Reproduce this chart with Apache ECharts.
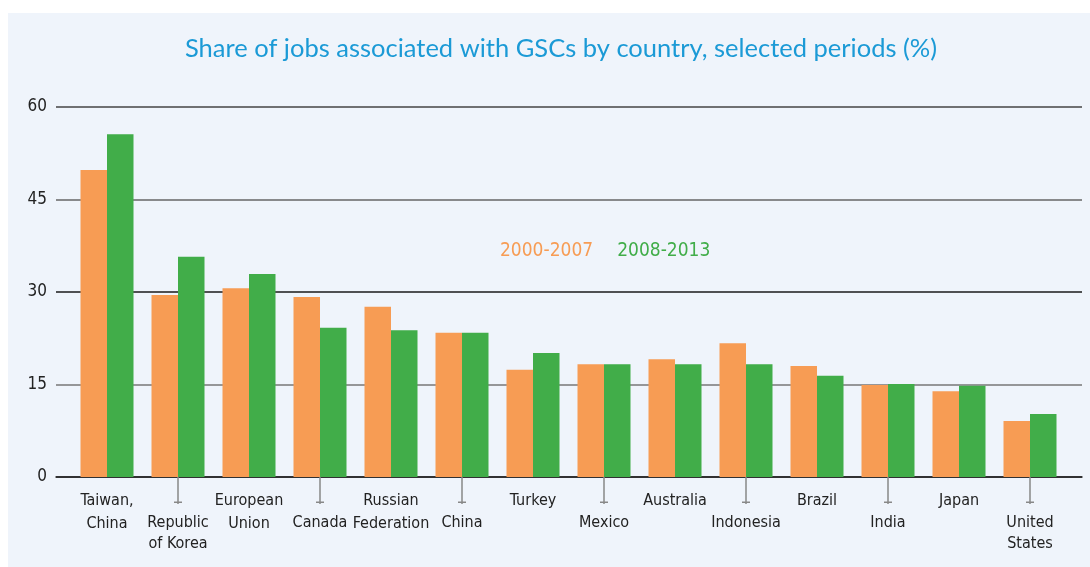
<!DOCTYPE html>
<html>
<head>
<meta charset="utf-8">
<script src="https://cdn.jsdelivr.net/npm/echarts@6/dist/echarts.min.js"></script>
<style>
  html, body { margin: 0; padding: 0; background: #ffffff; }
  #chart { width: 1090px; height: 567px; }
</style>
</head>
<body>
<div id="chart"></div>
<script>
// Countries (line breaks mark the two-line labels)
const categories = [
  'Taiwan,\nChina', 'Republic\nof Korea', 'European\nUnion', 'Canada',
  'Russian\nFederation', 'China', 'Turkey', 'Mexico', 'Australia',
  'Indonesia', 'Brazil', 'India', 'Japan', 'United\nStates'
];
const seriesNames = ['2000-2007', '2008-2013'];
// Share of jobs associated with GSCs, %
const share2000_2007 = [49.8, 29.5, 30.6, 29.2, 27.6, 23.4, 17.4, 18.3, 19.1, 21.7, 18.0, 14.9, 13.9, 9.1];
const share2008_2013 = [55.6, 35.7, 32.9, 24.2, 23.8, 23.4, 20.1, 18.3, 18.3, 18.3, 16.4, 15.1, 14.8, 10.2];
const yTicks = [0, 15, 30, 45, 60];

const ORANGE = '#F79C54';
const GREEN = '#41AD49';
const FONT = "'DejaVu Sans Condensed', 'DejaVu Sans', sans-serif";

const yMin = yTicks[0];
const yMax = yTicks[yTicks.length - 1];
const yStep = yTicks[1] - yTicks[0];

// Alternate labels drop to a second row with a leader tick and cap
function labelFormatter(value, index) {
  const lines = value.split('\n');
  if (index % 2 === 0) {
    return lines.map(l => '{t|' + l + '}').join('\n');
  }
  let s = '{cap|}\n{tb|' + lines[0] + '}';
  for (let i = 1; i < lines.length; i++) s += '\n{t2|' + lines[i] + '}';
  return s;
}

const chart = echarts.init(document.getElementById('chart'), null, { renderer: 'canvas' });

chart.setOption({
  backgroundColor: '#ffffff',
  animation: false,
  graphic: [{
    type: 'rect', left: 8, top: 13, z: -10,
    shape: { width: 1082, height: 554 },
    style: { fill: '#EFF4FB' }
  }],
  title: {
    text: 'Share of jobs associated with GSCs by country, selected periods (%)',
    left: 556, top: 31, textAlign: 'center',
    textStyle: { fontFamily: 'Lato, sans-serif', fontWeight: 'normal', fontSize: 25.5, color: '#1B9AD6' }
  },
  legend: {
    data: [
      { name: seriesNames[0], textStyle: { color: ORANGE } },
      { name: seriesNames[1], textStyle: { color: GREEN } }
    ],
    left: 490, top: 237,
    icon: 'rect', itemWidth: 0, itemHeight: 0, itemGap: 19,
    selectedMode: false,
    textStyle: { fontFamily: FONT, fontSize: 19 }
  },
  grid: [
    // full-width frame for gridlines and the baseline
    { left: 56, right: 8, top: 107, bottom: 90 },
    // inner frame holding the bars
    { left: 71.5, right: 24.5, top: 107, bottom: 90 }
  ],
  xAxis: [
    {
      gridIndex: 0, type: 'value', min: 0, max: 1,
      axisLine: { show: true, lineStyle: { color: '#222', width: 1.5 } },
      axisTick: { show: false }, axisLabel: { show: false }, splitLine: { show: false }
    },
    {
      gridIndex: 1, type: 'category', data: categories,
      axisLine: { show: false },
      axisTick: {
        show: true, alignWithLabel: true, length: 27,
        interval: (i) => i % 2 === 1,
        lineStyle: { color: '#888', width: 1.5 }
      },
      axisLabel: {
        interval: 0, margin: 12, formatter: labelFormatter,
        rich: {
          t: { fontFamily: FONT, fontSize: 16, color: '#222', lineHeight: 23 },
          tb: { fontFamily: FONT, fontSize: 16, color: '#222', lineHeight: 28, verticalAlign: 'bottom' },
          t2: { fontFamily: FONT, fontSize: 16, color: '#222', lineHeight: 26 },
          cap: { width: 8, height: 1.5, backgroundColor: '#888', lineHeight: 14, verticalAlign: 'bottom' }
        }
      }
    }
  ],
  yAxis: [
    {
      gridIndex: 0, type: 'value', min: yMin, max: yMax, interval: yStep,
      axisLine: { show: false }, axisTick: { show: false },
      axisLabel: { margin: 9, fontFamily: FONT, fontSize: 17, color: '#222' },
      splitLine: { show: true, lineStyle: { color: ['#333', '#777', '#1a1a1a', '#666', '#444'], width: 1.5 } }
    },
    {
      gridIndex: 1, type: 'value', min: yMin, max: yMax, interval: yStep,
      show: false
    }
  ],
  series: [
    {
      name: seriesNames[0], type: 'bar', xAxisIndex: 1, yAxisIndex: 1,
      data: share2000_2007, barWidth: 26.5, barGap: '0%',
      itemStyle: { color: ORANGE }
    },
    {
      name: seriesNames[1], type: 'bar', xAxisIndex: 1, yAxisIndex: 1,
      data: share2008_2013, barWidth: 26.5, barGap: '0%',
      itemStyle: { color: GREEN }
    }
  ]
});
</script>
</body>
</html>
